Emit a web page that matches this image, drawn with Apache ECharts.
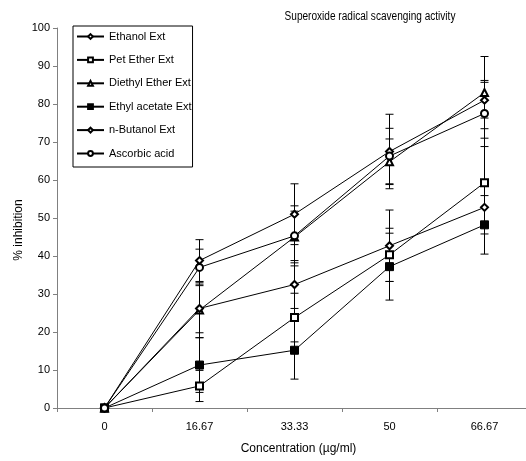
<!DOCTYPE html>
<html>
<head>
<meta charset="utf-8">
<script src="https://cdn.jsdelivr.net/npm/echarts@6/dist/echarts.min.js"></script>
<style>html,body{margin:0;padding:0;background:#fff;}#c{width:526px;height:461px;}</style>
</head>
<body>
<div id="c"></div>
<script>
const categories = ['0', '16.67', '33.33', '50', '66.67'];
const yTicks = [0, 10, 20, 30, 40, 50, 60, 70, 80, 90, 100];

const ethanol = [0, 38.8, 51.0, 67.5, 81.0];
const ethanolErr = [0, 5.5, 8.0, 9.8, 4.7];
const petEther = [0, 5.8, 23.8, 40.3, 59.3];
const petEtherErr = [0, 4.1, 6.4, 7.0, 11.7];
const diethylEther = [0, 25.8, 45.0, 64.8, 83.0];
const diethylEtherErr = [0, 7.3, 6.8, 6.0, 9.5];
const ethylAcetate = [0, 11.3, 15.2, 37.2, 48.2];
const ethylAcetateErr = [0, 7.2, 7.6, 8.8, 7.7];
const butanol = [0, 26.2, 32.5, 42.7, 52.8];
const butanolErr = [0, 6.4, 6.3, 9.4, 7.0];
const ascorbic = [0, 37.0, 45.3, 66.3, 77.5];
const ascorbicErr = [0, 4.8, 7.9, 7.3, 8.7];

const seriesDefs = [
  { name: 'Ethanol Ext', data: ethanol, err: ethanolErr, symbol: 'emptyDiamond', size: 7 },
  { name: 'Pet Ether Ext', data: petEther, err: petEtherErr, symbol: 'emptyRect', size: 7 },
  { name: 'Diethyl Ether Ext', data: diethylEther, err: diethylEtherErr, symbol: 'emptyTriangle', size: 7 },
  { name: 'Ethyl acetate Ext', data: ethylAcetate, err: ethylAcetateErr, symbol: 'rect', size: 8 },
  { name: 'n-Butanol Ext', data: butanol, err: butanolErr, symbol: 'emptyDiamond', size: 7 },
  { name: 'Ascorbic acid', data: ascorbic, err: ascorbicErr, symbol: 'emptyCircle', size: 7 }
];

const FONT = 'Liberation Sans, Arial, sans-serif';
const chart = echarts.init(document.getElementById('c'), null, { renderer: 'canvas' });

const series = [];
seriesDefs.forEach(function (s) {
  const errData = s.data.map(function (v, i) { return [i, v - s.err[i], v + s.err[i]]; });
  series.push({
    type: 'custom',
    name: s.name + ' err',
    data: errData,
    z: 1,
    silent: true,
    renderItem: function (params, api) {
      const lo = api.coord([api.value(0), api.value(1)]);
      const hi = api.coord([api.value(0), api.value(2)]);
      const w = 4;
      const st = { stroke: '#000', lineWidth: 1 };
      return {
        type: 'group',
        children: [
          { type: 'line', shape: { x1: lo[0], y1: lo[1], x2: hi[0], y2: hi[1] }, style: st },
          { type: 'line', shape: { x1: lo[0] - w, y1: lo[1], x2: lo[0] + w, y2: lo[1] }, style: st },
          { type: 'line', shape: { x1: hi[0] - w, y1: hi[1], x2: hi[0] + w, y2: hi[1] }, style: st }
        ]
      };
    }
  });
});
seriesDefs.forEach(function (s) {
  series.push({
    type: 'line',
    name: s.name,
    data: s.data,
    z: 2,
    symbol: s.symbol,
    symbolSize: s.size,
    showAllSymbol: true,
    lineStyle: { color: '#000', width: 1 },
    itemStyle: { color: '#000', borderColor: '#000', borderWidth: 1 },
    emphasis: { disabled: true },
    animation: false
  });
});

chart.setOption({
  animation: false,
  backgroundColor: '#fff',
  graphic: [
    {
      type: 'text',
      x: 370, y: 17,
      scaleX: 0.84,
      style: {
        text: 'Superoxide radical scavenging activity',
        font: '12px Liberation Sans, Arial, sans-serif',
        fill: '#000',
        textAlign: 'center',
        textVerticalAlign: 'middle'
      }
    },
    {
      type: 'text',
      x: 19, y: 230,
      rotation: Math.PI / 2,
      style: {
        text: '% inhibition',
        font: '12px Liberation Sans, Arial, sans-serif',
        fill: '#000',
        textAlign: 'center',
        textVerticalAlign: 'middle'
      }
    }
  ],
  legend: {
    orient: 'vertical',
    left: 73,
    top: 26,
    data: seriesDefs.map(function (s) { return s.name; }),
    itemWidth: 27,
    itemHeight: 6,
    itemGap: 12.4,
    padding: [5, 1, 8, 3],
    borderColor: '#000',
    borderWidth: 1,
    textStyle: { fontFamily: FONT, fontSize: 11, color: '#000' }
  },
  grid: { left: 57, right: -6, top: 28, bottom: 53, containLabel: false, outerBoundsMode: 'none' },
  xAxis: {
    type: 'category',
    data: categories,
    boundaryGap: true,
    name: 'Concentration (\u00b5g/ml)',
    nameLocation: 'middle',
    nameGap: 35,
    nameTextStyle: { fontFamily: FONT, fontSize: 12, color: '#000', padding: [0, 0, 0, 8] },
    axisLine: { lineStyle: { color: '#808080', width: 1 } },
    axisTick: { show: true, alignWithLabel: false, length: 4, lineStyle: { color: '#808080' } },
    axisLabel: { fontFamily: FONT, fontSize: 11, color: '#000', margin: 13 },
    splitLine: { show: false }
  },
  yAxis: {
    type: 'value',
    min: yTicks[0],
    max: yTicks[yTicks.length - 1],
    interval: 10,
    axisLine: { show: true, lineStyle: { color: '#808080', width: 1 } },
    axisTick: { show: true, length: 4, lineStyle: { color: '#808080' } },
    axisLabel: { fontFamily: FONT, fontSize: 11, color: '#000', margin: 7 },
    splitLine: { show: false }
  },
  series: series
});
</script>
</body>
</html>
